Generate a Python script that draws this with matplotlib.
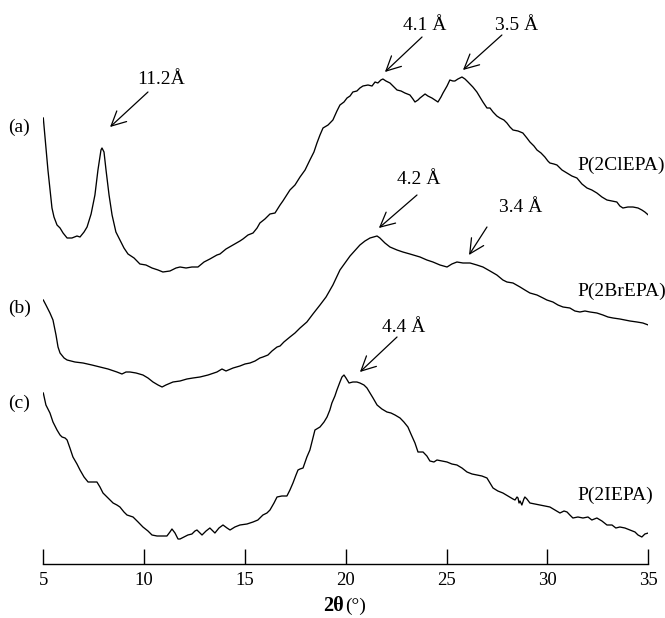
import matplotlib
matplotlib.use("Agg")
import matplotlib.pyplot as plt

plt.rcParams['font.family'] = ['Liberation Serif', 'DejaVu Serif']

# ---- data (2theta in degrees, intensity in a.u. with stacking offset included) ----
a_x = [5.00, 5.23, 5.43, 5.53, 5.68, 5.83, 5.98, 6.18, 6.42, 6.67, 6.82, 7.02, 7.17, 7.37, 7.56, 7.71,
       7.86, 7.91, 8.01, 8.11, 8.26, 8.41, 8.60, 8.80, 9.00, 9.20, 9.50, 9.79, 10.09, 10.39, 10.69,
       10.93, 11.28, 11.58, 11.78, 12.08, 12.37, 12.67, 12.97, 13.26, 13.61, 13.76, 14.06, 14.41,
       14.75, 14.90, 15.15, 15.40, 15.60, 15.74, 15.99, 16.24, 16.49, 16.74, 16.88, 17.23, 17.48,
       17.73, 17.98, 18.22, 18.42, 18.57, 18.72, 18.87, 19.12, 19.36, 19.56, 19.71, 19.91, 20.06,
       20.21, 20.35, 20.55, 20.70, 20.85, 21.10, 21.30, 21.45, 21.59, 21.74, 21.84, 21.99, 22.19,
       22.39, 22.54, 22.74, 22.93, 23.18, 23.33, 23.43, 23.58, 23.68, 23.93, 24.07, 24.27, 24.42,
       24.57, 24.72, 24.82, 25.02, 25.16, 25.31, 25.41, 25.56, 25.76, 25.91, 26.06, 26.30, 26.50,
       26.65, 26.80, 27.00, 27.15, 27.30, 27.49, 27.64, 27.84, 27.99, 28.14, 28.29, 28.54, 28.78,
       28.98, 29.13, 29.33, 29.48, 29.68, 29.87, 30.02, 30.12, 30.32, 30.47, 30.72, 30.97, 31.21,
       31.46, 31.71, 31.96, 32.20, 32.45, 32.70, 32.95, 33.20, 33.44, 33.59, 33.74, 33.99, 34.24,
       34.49, 34.68, 34.83, 35.00]
a_y = [446, 394, 356, 347, 339, 336, 331, 326, 326, 328, 327, 332, 337, 350, 369, 394,
       414, 416, 412, 394, 369, 349, 332, 324, 316, 310, 306, 300, 299, 296, 294,
       292, 293, 296, 297, 296, 297, 297, 302, 305, 309, 310, 315, 319,
       323, 325, 329, 331, 336, 341, 345, 350, 351, 359, 363, 374, 379,
       387, 394, 404, 412, 421, 429, 436, 439, 444, 453, 459, 462, 466,
       468, 472, 473, 476, 478, 479, 478, 482, 481, 484, 485, 483, 481,
       477, 474, 473, 471, 469, 465, 462, 464, 466, 470, 468, 466, 464,
       462, 467, 471, 478, 484, 483, 483, 485, 487, 485, 482, 477, 472,
       467, 462, 456, 456, 452, 448, 446, 444, 441, 437, 434, 433, 431,
       426, 422, 418, 414, 411, 407, 403, 401, 400, 399, 394, 391, 388,
       386, 380, 376, 374, 371, 367, 364, 363, 362, 358, 356, 357, 357,
       356, 354, 352, 349]

b_x = [5.00, 5.13, 5.33, 5.48, 5.63, 5.73, 5.83, 6.03, 6.18, 6.57, 6.97, 7.41, 7.81, 8.21, 8.65,
       8.90, 9.10, 9.30, 9.60, 9.94, 10.19, 10.44, 10.69, 10.89, 11.08, 11.43, 11.78, 12.12, 12.42,
       12.77, 13.17, 13.61, 13.86, 14.06, 14.41, 14.75, 15.00, 15.25, 15.50, 15.74, 15.89, 16.14,
       16.34, 16.59, 16.74, 16.93, 17.23, 17.48, 17.73, 18.07, 18.37, 18.72, 19.02, 19.36, 19.71,
       20.21, 20.70, 20.95, 21.20, 21.55, 21.69, 21.94, 22.19, 22.54, 22.83, 23.18, 23.68, 24.02,
       24.32, 24.67, 25.02, 25.26, 25.51, 25.81, 26.16, 26.50, 26.80, 27.15, 27.49, 27.79, 27.99,
       28.29, 28.64, 28.88, 29.13, 29.48, 29.78, 29.97, 30.27, 30.52, 30.77, 31.11, 31.36, 31.61,
       31.86, 32.11, 32.45, 32.75, 33.00, 33.25, 33.59, 33.84, 34.09, 34.44, 34.73, 35.00]
b_y = [264, 259, 251, 244, 229, 217, 211, 206, 204, 202, 201, 199, 197, 195, 192,
       190, 192, 192, 191, 189, 186, 182, 179, 177, 179, 182, 183, 185, 186,
       187, 189, 192, 195, 193, 196, 198, 200, 201, 203, 206, 207, 209,
       213, 217, 218, 222, 227, 231, 236, 242, 250, 259, 267, 279, 294,
       308, 319, 323, 326, 328, 326, 321, 317, 314, 312, 310, 307, 304,
       302, 299, 297, 300, 302, 301, 301, 299, 297, 293, 289, 284, 282,
       281, 277, 274, 271, 269, 266, 264, 262, 259, 257, 256, 253, 252,
       253, 252, 251, 249, 247, 246, 245, 244, 243, 242, 241, 239]

c_x = [5.00, 5.13, 5.33, 5.48, 5.68, 5.83, 5.93, 6.08, 6.18, 6.32, 6.47, 6.67, 6.82, 7.02, 7.22,
       7.41, 7.66, 7.81, 7.96, 8.21, 8.46, 8.65, 8.80, 9.00, 9.15, 9.30, 9.45, 9.70, 9.94, 10.19,
       10.39, 10.64, 10.93, 11.13, 11.28, 11.38, 11.53, 11.68, 11.78, 11.98, 12.17, 12.37, 12.52,
       12.62, 12.77, 12.87, 13.07, 13.26, 13.41, 13.51, 13.71, 13.91, 14.11, 14.26, 14.50, 14.75,
       15.10, 15.40, 15.64, 15.89, 16.09, 16.24, 16.44, 16.59, 16.83, 17.08, 17.23, 17.38, 17.53,
       17.63, 17.73, 17.88, 18.07, 18.22, 18.47, 18.72, 18.92, 19.07, 19.21, 19.31, 19.46, 19.56,
       19.71, 19.81, 19.91, 20.01, 20.16, 20.35, 20.55, 20.70, 20.90, 21.05, 21.20, 21.35, 21.55,
       21.79, 22.04, 22.24, 22.44, 22.69, 22.88, 23.08, 23.23, 23.43, 23.58, 23.83, 24.02, 24.17,
       24.37, 24.52, 24.77, 25.02, 25.26, 25.51, 25.76, 26.01, 26.26, 26.50, 26.75, 27.00, 27.15,
       27.30, 27.54, 27.79, 28.04, 28.29, 28.39, 28.49, 28.54, 28.59, 28.64, 28.73, 28.83, 28.88,
       28.98, 29.13, 29.38, 29.63, 29.87, 30.12, 30.37, 30.62, 30.82, 30.97, 31.11, 31.26, 31.51,
       31.76, 32.01, 32.20, 32.45, 32.70, 32.95, 33.20, 33.39, 33.59, 33.84, 34.09, 34.34, 34.49,
       34.68, 34.83, 35.00]
c_y = [171, 159, 151, 142, 134, 129, 127, 126, 124, 116, 107, 100, 94, 87, 82,
       82, 82, 77, 71, 66, 61, 59, 57, 52, 49, 48, 47, 42, 37, 33,
       29, 28, 28, 28, 32, 35, 31, 25, 25, 27, 29, 30, 33,
       34, 31, 29, 33, 36, 33, 31, 36, 39, 36, 34, 37, 39,
       40, 42, 44, 49, 51, 54, 61, 67, 68, 68, 74, 81, 89,
       94, 95, 96, 107, 114, 134, 137, 142, 147, 154, 161, 168, 174,
       182, 187, 189, 186, 181, 182, 182, 181, 179, 176, 171, 166, 159,
       155, 152, 151, 149, 146, 142, 137, 130, 121, 112, 112, 108, 103,
       102, 104, 103, 102, 100, 99, 96, 92, 90, 89, 88, 86, 81,
       76, 73, 71, 68, 65, 64, 67, 66, 61, 63, 59, 65, 67,
       65, 61, 60, 59, 58, 57, 54, 51, 53, 52, 49, 46, 47,
       46, 47, 44, 46, 43, 39, 39, 36, 37, 36, 34, 32, 29,
       27, 30, 31]

series = [(a_x, a_y), (b_x, b_y), (c_x, c_y)]
series_names = ['P(2ClEPA)', 'P(2BrEPA)', 'P(2IEPA)']
name_pos = [(31.46, 399), (31.46, 273), (31.46, 69)]
panel_tags = ['(a)', '(b)', '(c)']
panel_tag_fig_y = [1 - 127 / 618, 1 - 308 / 618, 1 - 403 / 618]

xticks = [5, 10, 15, 20, 25, 30, 35]

# annotations: label, text centre, arrow tail, arrow tip
peak_labels = ['11.2Å', '4.1 Å', '3.5 Å', '4.2 Å', '3.4 Å', '4.4 Å']
peak_text = [(10.84, 484), (23.92, 539), (28.49, 539), (23.63, 384), (28.68, 357), (22.88, 237)]
peak_tail = [(10.19, 472), (23.78, 527), (27.74, 529), (23.53, 369), (27.00, 337), (22.54, 227)]
peak_tip = [(8.31, 437), (21.94, 492), (25.81, 494), (21.64, 336), (26.11, 309), (20.70, 192)]

# ---- figure ----
W, H = 665, 618
fig = plt.figure(figsize=(W / 100, H / 100), dpi=100)
left, right = 43.3 / W, 648.3 / W
bottom = (H - 564) / H
ax = fig.add_axes([left, bottom, right - left, 1 - bottom])

for xs, ys in series:
    ax.plot(xs, ys, color='black', lw=0.95)

ax.set_xlim(5, 35)
ax.set_ylim(0, 564)
for s in ['left', 'right', 'top']:
    ax.spines[s].set_visible(False)
ax.spines['bottom'].set_linewidth(1.0)
ax.set_yticks([])
ax.set_xticks(xticks)
ax.set_xticklabels([str(t) for t in xticks])
ax.tick_params(axis='x', direction='in', length=10.5, width=1.0, pad=5.5, labelsize=13.5)

for name, (tx, ty) in zip(series_names, name_pos):
    ax.text(tx, ty, name, ha='left', va='center', fontsize=14, clip_on=False)

for tag, fy in zip(panel_tags, panel_tag_fig_y):
    fig.text(8 / W, fy, tag, ha='left', va='center', fontsize=14)

for lab, tc, tl, tp in zip(peak_labels, peak_text, peak_tail, peak_tip):
    ax.text(tc[0], tc[1], lab, ha='center', va='center', fontsize=14)
    ax.annotate('', xy=tp, xytext=tl,
                arrowprops=dict(arrowstyle='->,head_length=0.8,head_width=0.4',
                                color='black', lw=0.9, shrinkA=0, shrinkB=0,
                                mutation_scale=13))

fig.text(344.0 / W, 1 - 606 / H, '2θ', ha='right', va='center',
         fontsize=14.5, fontweight='bold')
fig.text(345.0 / W, 1 - 606 / H, '(°)', ha='left', va='center', fontsize=14)

fig.savefig('out.png', dpi=100)
